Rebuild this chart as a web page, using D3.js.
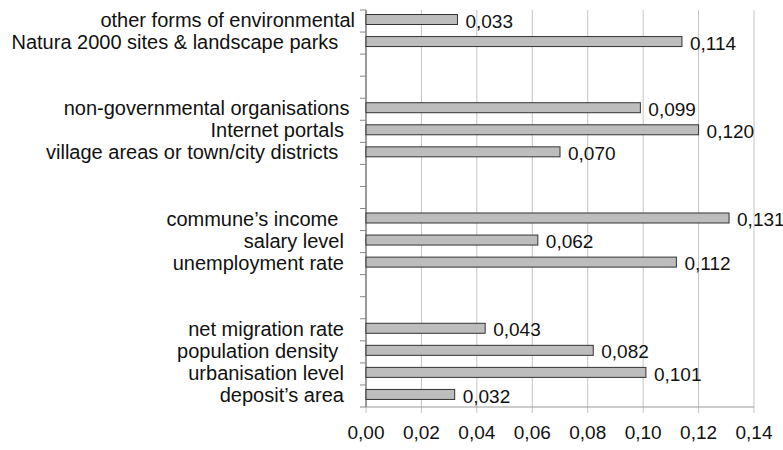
<!DOCTYPE html>
<html>
<head>
<meta charset="utf-8">
<script src="https://cdn.jsdelivr.net/npm/d3@7"></script>
<style>
  body { margin: 0; background: #fff; }
  text { font-family: "Liberation Sans", Arial, sans-serif; fill: #111; }
</style>
</head>
<body>
<div id="chart"></div>
<script>
// categories top to bottom, "" = empty gap rows (trailing spaces as in the source labels)
var categories = [
	"other forms of environmental",
	"Natura 2000 sites & landscape parks   ",
	"", "",
	"non-governmental organisations ",
	"Internet portals  ",
	"village areas or town/city districts   ",
	"", "",
	"commune\u2019s income   ",
	"salary level  ",
	"unemployment rate  ",
	"", "",
	"net migration rate  ",
	"population density   ",
	"urbanisation level  ",
	"deposit\u2019s area  "
]
var values = [0.033, 0.114, null, null, 0.099, 0.120, 0.070, null, null, 0.131, 0.062, 0.112, null, null, 0.043, 0.082, 0.101, 0.032]
var xTicks = [0, 0.02, 0.04, 0.06, 0.08, 0.10, 0.12, 0.14]

var width = 783
var height = 450
var mLeft = 366, mRight = 754, mTop = 10, mBottom = 407

var rows = categories.map((c, i) => ({key: i, label: c, value: values[i]}))

const svg = d3.select("#chart").append("svg")
	.attr("width", width)
	.attr("height", height)

const x = d3.scaleLinear().domain([0, 0.14]).range([mLeft, mRight])
const y = d3.scaleBand().domain(rows.map(d => d.key)).range([mTop, mBottom]).padding(0)

var fmt = v => d3.format(".2f")(v).replace(".", ",")
var fmt3 = v => d3.format(".3f")(v).replace(".", ",")

// gridlines + small ticks below the axis
svg.append("g")
	.selectAll("line")
	.data(xTicks)
	.join("line")
	.attr("x1", d => x(d)).attr("x2", d => x(d))
	.attr("y1", mTop).attr("y2", mBottom + 6)
	.attr("stroke", "#c4c4c4")
	.attr("stroke-width", 1)

// bottom axis line
svg.append("line")
	.attr("x1", mLeft).attr("x2", mRight)
	.attr("y1", mBottom).attr("y2", mBottom)
	.attr("stroke", "#9a9a9a")

// left axis line and ticks at band edges
svg.append("line")
	.attr("x1", mLeft).attr("x2", mLeft)
	.attr("y1", mTop).attr("y2", mBottom)
	.attr("stroke", "#555")

var edges = rows.map(d => y(d.key)).concat([mBottom])
svg.append("g")
	.selectAll("line")
	.data(edges)
	.join("line")
	.attr("x1", mLeft - 6).attr("x2", mLeft)
	.attr("y1", d => d).attr("y2", d => d)
	.attr("stroke", "#888")

// x tick labels
svg.append("g")
	.selectAll("text")
	.data(xTicks)
	.join("text")
	.attr("x", d => x(d))
	.attr("y", 432)
	.attr("dy", "0.35em")
	.attr("text-anchor", "middle")
	.attr("font-size", 19)
	.text(d => fmt(d))

// category labels
svg.append("g")
	.selectAll("text")
	.data(rows.filter(d => d.label))
	.join("text")
	.attr("x", 355)
	.attr("y", d => y(d.key) + y.bandwidth() / 2 - 1)
	.attr("dy", "0.35em")
	.attr("text-anchor", "end")
	.attr("font-size", 20)
	.attr("xml:space", "preserve")
	.style("white-space", "pre")
	.text(d => d.label)

var data = rows.filter(d => d.value != null)

// bars
svg.append("g")
	.selectAll("rect")
	.data(data)
	.join("rect")
	.attr("x", x(0))
	.attr("y", d => y(d.key) + 4.5)
	.attr("width", d => x(d.value) - x(0))
	.attr("height", 10)
	.attr("fill", "#bdbdbd")
	.attr("stroke", "#333")
	.attr("stroke-width", 1)

// value labels
svg.append("g")
	.selectAll("text")
	.data(data)
	.join("text")
	.attr("x", d => x(d.value) + 8)
	.attr("y", d => y(d.key) + 11)
	.attr("dy", "0.35em")
	.attr("font-size", 19)
	.text(d => fmt3(d.value))
</script>
</body>
</html>
